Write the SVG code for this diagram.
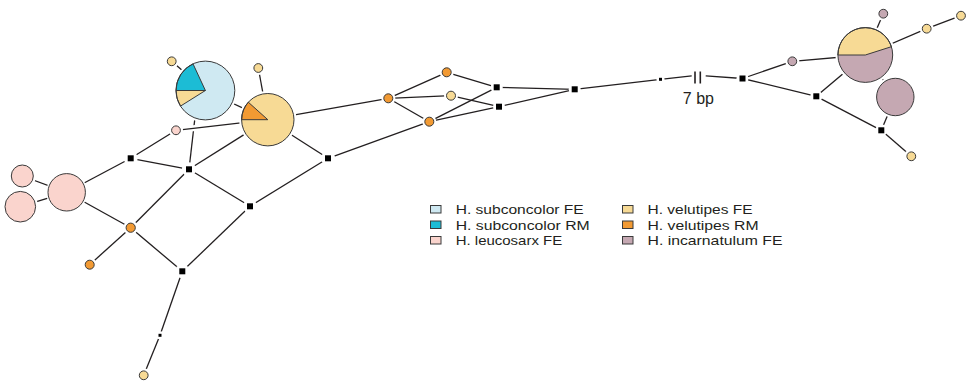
<svg xmlns="http://www.w3.org/2000/svg" width="966" height="381" viewBox="0 0 966 381">
<style>
.e{stroke:#231f20;stroke-width:1.3;fill:none;stroke-linecap:butt}
.cas{stroke:#fff;stroke-width:6;fill:none}
.h{fill:#fff}
.nd{stroke:#3a3a3a;stroke-width:1}
.sf{fill:#cfe9f2}.sr{fill:#1cbcd5}.lf{fill:#fad4cd}.vf{fill:#f7da95}.vr{fill:#f29a33}.if{fill:#c5a8b2}
.sq{fill:#000}
.ol{fill:none;stroke:#3a3a3a;stroke-width:1}
.t{font-family:"Liberation Sans",Arial,sans-serif;font-size:13.4px;fill:#231f20}
</style>
<rect width="966" height="381" fill="#fff"/>
<g id="connectors">
<line class="e" x1="22.3" y1="176" x2="66.7" y2="192.3"/>
<line class="e" x1="20.3" y1="206.7" x2="66.7" y2="192.3"/>
<line class="e" x1="66.7" y1="192.3" x2="130.7" y2="158.3"/>
<line class="e" x1="66.7" y1="192.3" x2="130.7" y2="227.7"/>
<line class="e" x1="130.7" y1="158.3" x2="176" y2="130.3"/>
<line class="e" x1="130.7" y1="158.3" x2="189" y2="169.3"/>
<line class="e" x1="189" y1="169.3" x2="197" y2="100"/>
<line class="cas" x1="176" y1="130.3" x2="267.8" y2="119.7"/>
<line class="e" x1="176" y1="130.3" x2="267.8" y2="119.7"/>
<line class="e" x1="189" y1="169.3" x2="267.8" y2="119.7"/>
<line class="e" x1="189" y1="169.3" x2="130.7" y2="227.7"/>
<line class="e" x1="189" y1="169.3" x2="250" y2="206.3"/>
<line class="e" x1="171.7" y1="61.3" x2="205.4" y2="90.5"/>
<line class="e" x1="258.3" y1="68" x2="267.8" y2="119.7"/>
<line class="e" x1="205.4" y1="90.5" x2="267.8" y2="119.7"/>
<line class="e" x1="267.8" y1="119.7" x2="328" y2="158.3"/>
<line class="e" x1="267.8" y1="119.7" x2="388.3" y2="98.3"/>
<line class="e" x1="328" y1="158.3" x2="250" y2="206.3"/>
<line class="e" x1="328" y1="158.3" x2="429.3" y2="121.7"/>
<line class="e" x1="250" y1="206.3" x2="182.3" y2="271.3"/>
<line class="e" x1="130.7" y1="227.7" x2="182.3" y2="271.3"/>
<line class="e" x1="130.7" y1="227.7" x2="89.7" y2="264.7"/>
<line class="e" x1="182.3" y1="271.3" x2="160" y2="335.3"/>
<line class="e" x1="160" y1="335.3" x2="143.7" y2="375.3"/>
<line class="e" x1="388.3" y1="98.3" x2="446.7" y2="72.3"/>
<line class="e" x1="388.3" y1="98.3" x2="451" y2="95.7"/>
<line class="e" x1="388.3" y1="98.3" x2="429.3" y2="121.7"/>
<line class="e" x1="446.7" y1="72.3" x2="496.7" y2="87.3"/>
<line class="e" x1="451" y1="95.7" x2="499" y2="106.7"/>
<line class="e" x1="429.3" y1="121.7" x2="496.7" y2="87.3"/>
<line class="e" x1="429.3" y1="121.7" x2="499" y2="106.7"/>
<line class="e" x1="496.7" y1="87.3" x2="574.7" y2="89.3"/>
<line class="e" x1="499" y1="106.7" x2="574.7" y2="89.3"/>
<line class="e" x1="574.7" y1="89.3" x2="660.5" y2="79.3"/>
<line class="e" x1="660.5" y1="79.3" x2="691.7" y2="75.8"/>
<line class="e" x1="705.7" y1="75.8" x2="742.5" y2="78.5"/>
<line class="e" x1="695" y1="71.5" x2="695" y2="83.5" style="stroke-width:1.6"/>
<line class="e" x1="700.3" y1="71.5" x2="700.3" y2="83.5" style="stroke-width:1.6"/>
<line class="e" x1="742.5" y1="78.5" x2="792.3" y2="61.3"/>
<line class="e" x1="742.5" y1="78.5" x2="816.3" y2="96.3"/>
<line class="e" x1="792.3" y1="61.3" x2="865.3" y2="55"/>
<line class="e" x1="816.3" y1="96.3" x2="865.3" y2="55"/>
<line class="e" x1="816.3" y1="96.3" x2="881.3" y2="130.3"/>
<line class="e" x1="881.3" y1="130.3" x2="895.3" y2="97"/>
<line class="e" x1="881.3" y1="130.3" x2="911.3" y2="156.3"/>
<line class="e" x1="865.3" y1="55" x2="883.3" y2="13.7"/>
<line class="e" x1="865.3" y1="55" x2="926.7" y2="28.7"/>
<line class="e" x1="926.7" y1="28.7" x2="961" y2="15.7"/>
<line class="e" x1="865.3" y1="55" x2="895.3" y2="97"/>
</g>
<g id="label-7bp"><text class="t" x="682.8" y="104" style="font-size:16px">7 bp</text></g>
<g id="P1"><circle class="h" cx="22.3" cy="176" r="13.5"/><circle class="nd lf" cx="22.3" cy="176" r="11"/></g>
<g id="P2"><circle class="h" cx="20.3" cy="206.7" r="17.8"/><circle class="nd lf" cx="20.3" cy="206.7" r="15.3"/></g>
<g id="P3"><circle class="h" cx="66.7" cy="192.3" r="20.5"/><circle class="nd lf" cx="66.7" cy="192.3" r="18.7"/></g>
<g id="pieA">
<circle class="h" cx="205.4" cy="90.5" r="31.9"/>
<circle class="sf" cx="205.4" cy="90.5" r="29.4"/>
<path class="nd sr" d="M205.4,90.5 L176,90.5 A29.4,29.4 0 0 1 193,63.85 Z"/>
<path class="nd vf" d="M205.4,90.5 L180.5,106.1 A29.4,29.4 0 0 1 176,90.5 Z"/>
<circle class="ol" cx="205.4" cy="90.5" r="29.4"/>
</g>
<g id="pieB">
<circle class="h" cx="267.8" cy="119.7" r="28.7"/>
<circle class="vf" cx="267.8" cy="119.7" r="26.2"/>
<path class="nd vr" d="M267.8,119.7 L241.6,119.7 A26.2,26.2 0 0 1 248.3,102.2 Z"/>
<circle class="ol" cx="267.8" cy="119.7" r="26.2"/>
</g>
<g id="pieC">
<circle class="h" cx="865.3" cy="55" r="29.9"/>
<circle class="if" cx="865.3" cy="55" r="27.4"/>
<path class="nd vf" d="M865.3,55 L837.9,55 A27.4,27.4 0 0 1 891.4,46.7 Z"/>
<circle class="ol" cx="865.3" cy="55" r="27.4"/>
</g>
<g id="M3"><circle class="h" cx="895.3" cy="97" r="21.2"/><circle class="nd if" cx="895.3" cy="97" r="18.7"/></g>
<g id="y1"><circle class="h" cx="171.7" cy="61.3" r="7"/><circle class="nd vf" cx="171.7" cy="61.3" r="4.4"/></g>
<g id="y2"><circle class="h" cx="258.3" cy="68" r="7"/><circle class="nd vf" cx="258.3" cy="68" r="4.4"/></g>
<g id="p1"><circle class="h" cx="176" cy="130.3" r="7"/><circle class="nd lf" cx="176" cy="130.3" r="4.4"/></g>
<g id="o1"><circle class="h" cx="130.7" cy="227.7" r="7.2"/><circle class="nd vr" cx="130.7" cy="227.7" r="4.6"/></g>
<g id="o2"><circle class="h" cx="89.7" cy="264.7" r="7"/><circle class="nd vr" cx="89.7" cy="264.7" r="4.5"/></g>
<g id="y3"><circle class="h" cx="143.7" cy="375.3" r="7"/><circle class="nd vf" cx="143.7" cy="375.3" r="4.4"/></g>
<g id="o3"><circle class="h" cx="388.3" cy="98.3" r="7"/><circle class="nd vr" cx="388.3" cy="98.3" r="4.5"/></g>
<g id="o4"><circle class="h" cx="446.7" cy="72.3" r="7"/><circle class="nd vr" cx="446.7" cy="72.3" r="4.5"/></g>
<g id="y4"><circle class="h" cx="451" cy="95.7" r="7"/><circle class="nd vf" cx="451" cy="95.7" r="4.5"/></g>
<g id="o5"><circle class="h" cx="429.3" cy="121.7" r="7"/><circle class="nd vr" cx="429.3" cy="121.7" r="4.5"/></g>
<g id="m1"><circle class="h" cx="792.3" cy="61.3" r="7"/><circle class="nd if" cx="792.3" cy="61.3" r="4.4"/></g>
<g id="m2"><circle class="h" cx="883.3" cy="13.7" r="7"/><circle class="nd if" cx="883.3" cy="13.7" r="4.4"/></g>
<g id="y5"><circle class="h" cx="926.7" cy="28.7" r="7"/><circle class="nd vf" cx="926.7" cy="28.7" r="4.4"/></g>
<g id="y6"><circle class="h" cx="961" cy="15.7" r="7"/><circle class="nd vf" cx="961" cy="15.7" r="4.4"/></g>
<g id="y7"><circle class="h" cx="911.3" cy="156.3" r="7"/><circle class="nd vf" cx="911.3" cy="156.3" r="4.4"/></g>
<g id="s1"><circle class="h" cx="130.7" cy="158.3" r="7"/><rect class="sq" x="127.7" y="155.3" width="6" height="6"/></g>
<g id="s2"><circle class="h" cx="189" cy="169.3" r="7"/><rect class="sq" x="186" y="166.3" width="6" height="6"/></g>
<g id="s3"><circle class="h" cx="328" cy="158.3" r="7"/><rect class="sq" x="325" y="155.3" width="6" height="6"/></g>
<g id="s4"><circle class="h" cx="250" cy="206.3" r="7"/><rect class="sq" x="247" y="203.3" width="6" height="6"/></g>
<g id="s5"><circle class="h" cx="182.3" cy="271.3" r="7"/><rect class="sq" x="179.3" y="268.3" width="6" height="6"/></g>
<g id="s6"><circle class="h" cx="496.7" cy="87.3" r="6"/><rect class="sq" x="493.7" y="84.3" width="6" height="6"/></g>
<g id="s7"><circle class="h" cx="499" cy="106.7" r="6"/><rect class="sq" x="496" y="103.7" width="6" height="6"/></g>
<g id="s8"><circle class="h" cx="574.7" cy="89.3" r="6"/><rect class="sq" x="571.7" y="86.3" width="6" height="6"/></g>
<g id="s9"><circle class="h" cx="742.5" cy="78.5" r="6"/><rect class="sq" x="739.5" y="75.5" width="6" height="6"/></g>
<g id="s10"><circle class="h" cx="816.3" cy="96.3" r="6"/><rect class="sq" x="813.3" y="93.3" width="6" height="6"/></g>
<g id="s11"><circle class="h" cx="881.3" cy="130.3" r="6"/><rect class="sq" x="878.3" y="127.3" width="6" height="6"/></g>
<g id="t1"><circle class="h" cx="160" cy="335.3" r="4"/><rect class="sq" x="158.5" y="333.8" width="3" height="3"/></g>
<g id="t2"><circle class="h" cx="660.5" cy="79.3" r="4"/><rect class="sq" x="659" y="77.8" width="3" height="3"/></g>
<g id="legend">
<rect class="nd sf" x="430.5" y="205.5" width="10.5" height="7.5"/>
<text class="t" x="455.7" y="214" textLength="128" lengthAdjust="spacingAndGlyphs">H. subconcolor FE</text>
<rect class="nd sr" x="430.5" y="221" width="10.5" height="7.5"/>
<text class="t" x="455.7" y="229.5" textLength="134" lengthAdjust="spacingAndGlyphs">H. subconcolor RM</text>
<rect class="nd lf" x="430.5" y="236.5" width="10.5" height="7.5"/>
<text class="t" x="455.7" y="245" textLength="106.5" lengthAdjust="spacingAndGlyphs">H. leucosarx FE</text>
<rect class="nd vf" x="622.5" y="205.5" width="10.5" height="7.5"/>
<text class="t" x="647.5" y="214" textLength="105" lengthAdjust="spacingAndGlyphs">H. velutipes FE</text>
<rect class="nd vr" x="622.5" y="221" width="10.5" height="7.5"/>
<text class="t" x="647.5" y="229.5" textLength="111" lengthAdjust="spacingAndGlyphs">H. velutipes RM</text>
<rect class="nd if" x="622.5" y="236.5" width="10.5" height="7.5"/>
<text class="t" x="647.5" y="245" textLength="135" lengthAdjust="spacingAndGlyphs">H. incarnatulum FE</text>
</g>
</svg>
